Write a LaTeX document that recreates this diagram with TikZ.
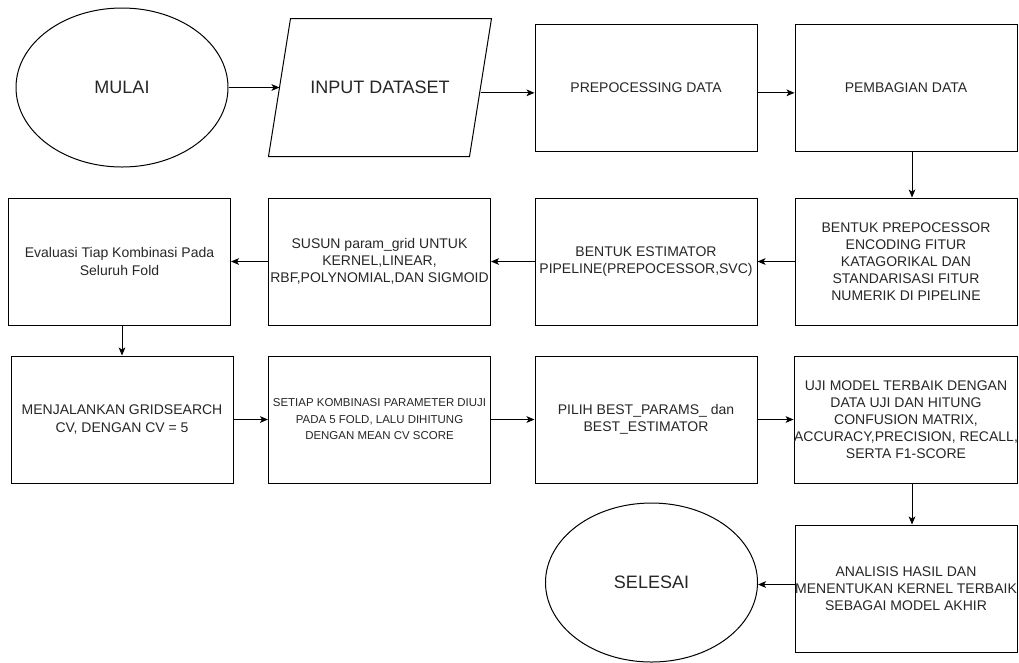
\documentclass[tikz,border=0pt]{standalone}
\usepackage{fontspec}
\setmainfont{Liberation Sans}
\usetikzlibrary{shapes.geometric}
\usetikzlibrary{arrows.meta}

\begin{document}
\begin{tikzpicture}[x=0.75pt, y=-0.75pt, line width=0.75pt,
    proses/.style={draw, rectangle, inner sep=0pt, minimum width=166.5pt, minimum height=95.25pt,
      align=center, text=black!85, font=\fontsize{10.5}{12.8}\selectfont},
    batas/.style={draw, ellipse, inner sep=0pt, minimum width=159pt, minimum height=119.25pt,
      text=black!85, font=\fontsize{13.5}{16}\selectfont},
    masukan/.style={rectangle, inner sep=0pt, minimum width=150pt, minimum height=102.75pt,
      text=black!85, font=\fontsize{13.5}{16}\selectfont},
    kecil/.style={font=\fontsize{8.6}{12.4}\selectfont},
    panah/.style={-{Stealth[length=6pt, width=5pt, inset=1.5pt]}}]
  \useasboundingbox (0, 0) rectangle (1019, 662);

  \node[batas] (mulai) at (122, 87.5) {MULAI};
  \node[masukan] (input) at (380, 87.5) {INPUT DATASET};
  \draw ([xshift=8.25pt]input.north west) -- ([xshift=8.25pt]input.north east)
    -- ([xshift=-8.25pt]input.south east) -- ([xshift=-8.25pt]input.south west) -- cycle;
  \node[proses] (prepro) at (646, 87.5) {PREPOCESSING DATA};
  \node[proses] (bagi) at (906, 87.5) {PEMBAGIAN DATA};

  \node[proses] (eval) at (119.5, 261.5) {Evaluasi Tiap Kombinasi Pada\\Seluruh Fold};
  \node[proses] (grid) at (379.5, 261.5) {SUSUN param\_grid UNTUK\\KERNEL,LINEAR,\\RBF,POLYNOMIAL,DAN SIGMOID};
  \node[proses] (estim) at (646, 261.5) {BENTUK ESTIMATOR\\PIPELINE(PREPOCESSOR,SVC)};
  \node[proses] (prepor) at (906, 261.5) {BENTUK PREPOCESSOR\\ENCODING FITUR\\KATAGORIKAL DAN\\STANDARISASI FITUR\\NUMERIK DI PIPELINE};

  \node[proses] (gs) at (122, 419.5) {MENJALANKAN GRIDSEARCH\\CV, DENGAN CV = 5};
  \node[proses, kecil] (kombi) at (379.5, 419.5) {SETIAP KOMBINASI PARAMETER DIUJI\\PADA 5 FOLD, LALU DIHITUNG\\DENGAN MEAN CV SCORE};
  \node[proses] (pilih) at (646, 419.5) {PILIH BEST\_PARAMS\_ dan\\BEST\_ESTIMATOR};
  \node[proses] (uji) at (906, 419.5) {UJI MODEL TERBAIK DENGAN\\DATA UJI DAN HITUNG\\CONFUSION MATRIX,\\ACCURACY,PRECISION, RECALL,\\SERTA F1-SCORE};

  \node[proses] (analisis) at (906, 588.5) {ANALISIS HASIL DAN\\MENENTUKAN KERNEL TERBAIK\\SEBAGAI MODEL AKHIR};
  \node[batas] (selesai) at (651.5, 582.5) {SELESAI};

  \draw[panah] (mulai) -- (input);
  \draw[panah] ([yshift=-4pt]input.east) -- ([yshift=-4pt]prepro.west);
  \draw[panah] ([yshift=-4pt]prepro.east) -- ([yshift=-4pt]bagi.west);
  \draw[panah] ([xshift=4.5pt]bagi.south) -- ([xshift=4.5pt]prepor.north);
  \draw[panah] (prepor) -- (estim);
  \draw[panah] (estim) -- (grid);
  \draw[panah] (grid) -- (eval);
  \draw[panah] (eval.south -| gs.north) -- (gs.north);
  \draw[panah] (gs) -- (kombi);
  \draw[panah] (kombi) -- (pilih);
  \draw[panah] (pilih) -- (uji);
  \draw[panah] ([xshift=4.5pt]uji.south) -- ([xshift=4.5pt]analisis.north);
  \draw[panah] ([yshift=3pt]analisis.west) -- ([yshift=3pt]analisis.west -| selesai.east);
\end{tikzpicture}
\end{document}
